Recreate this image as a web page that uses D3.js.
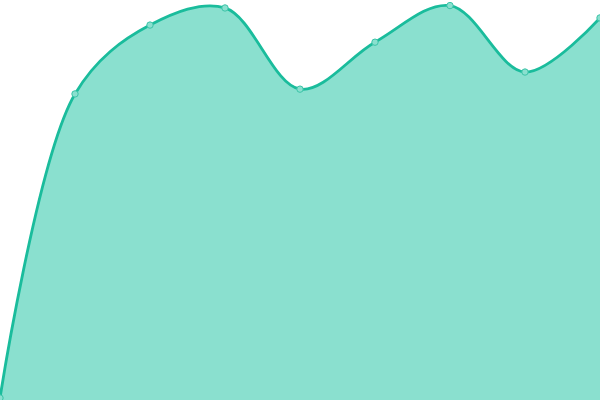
<!DOCTYPE html>
<html><head><meta charset="utf-8">
<script src="https://cdn.jsdelivr.net/npm/d3@7"></script>
<style>html,body{margin:0;padding:0;background:#fff;overflow:hidden}svg{display:block}</style>
</head><body>
<svg id="c" width="600" height="400"></svg>
<script>
const categories = ["1","2","3","4","5","6","7","8","9"];
const values = [0, 76.4, 93.7, 98.0, 77.6, 89.4, 98.6, 81.9, 95.5];

const W = 600, H = 400;
const svg = d3.select("#c");
const x = d3.scalePoint().domain(categories).range([0, W]);
const y = d3.scaleLinear().domain([0, 100]).range([398, 0]);
const data = categories.map((c, i) => ({c, v: values[i]}));

const curve = d3.curveCatmullRom.alpha(0.5);
svg.append("path").datum(data)
  .attr("fill", "#8ae0cf")
  .attr("d", d3.area().x(d => x(d.c)).y0(H).y1(d => y(d.v)).curve(curve));
svg.append("path").datum(data)
  .attr("fill", "none").attr("stroke", "#1abc9c").attr("stroke-width", 2.8)
  .attr("d", d3.line().x(d => x(d.c)).y(d => y(d.v)).curve(curve));
svg.selectAll("circle").data(data).join("circle")
  .attr("cx", d => x(d.c)).attr("cy", d => y(d.v)).attr("r", 3.2)
  .attr("fill", "#8ae0cf").attr("stroke", "#3cc4a8").attr("stroke-width", 1);
</script>
</body></html>
